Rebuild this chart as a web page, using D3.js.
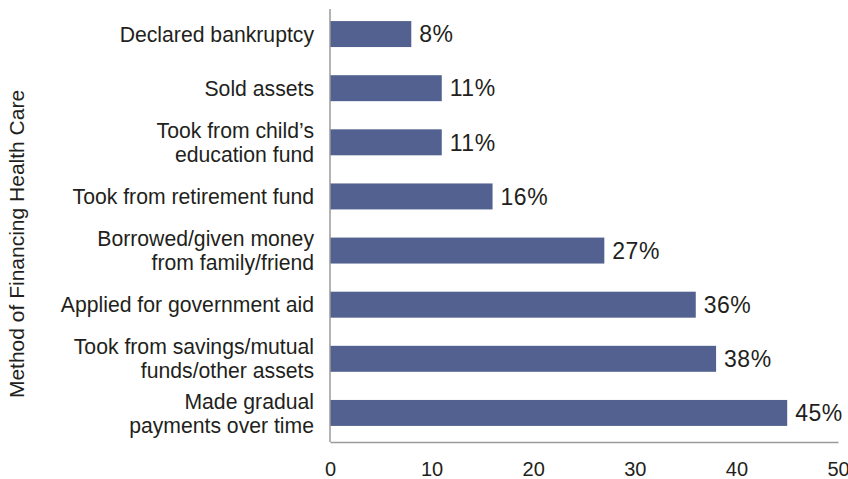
<!DOCTYPE html>
<html>
<head>
<meta charset="utf-8">
<script src="https://cdn.jsdelivr.net/npm/d3@7"></script>
<style>
  html, body { margin: 0; padding: 0; background: #fff; }
  svg { display: block; }
  text { font-family: "Liberation Sans", Arial, Helvetica, sans-serif; fill: #231f20; }
</style>
</head>
<body>
<svg id="chart" width="848" height="479"></svg>
<script>
const categories = [
  ["Declared bankruptcy"],
  ["Sold assets"],
  ["Took from child\u2019s", "education fund"],
  ["Took from retirement fund"],
  ["Borrowed/given money", "from family/friend"],
  ["Applied for government aid"],
  ["Took from savings/mutual", "funds/other assets"],
  ["Made gradual", "payments over time"]
];
const values = [8, 11, 11, 16, 27, 36, 38, 45];
const xTicks = [0, 10, 20, 30, 40, 50];
const axisTitle = "Method of Financing Health Care";

const svg = d3.select("#chart");
const plot = { left: 330, right: 838, top: 9, bottom: 442 };

const x = d3.scaleLinear().domain([0, 50]).range([plot.left, plot.right]);
const y = d3.scaleBand()
  .domain(d3.range(categories.length))
  .range([7, 440])
  .paddingInner(0.52)
  .paddingOuter(0.26);

// bars
svg.append("g").selectAll("rect")
  .data(values)
  .join("rect")
  .attr("x", x(0))
  .attr("y", (d, i) => y(i))
  .attr("width", d => x(d) - x(0))
  .attr("height", y.bandwidth())
  .attr("fill", "#52618f");

// value labels
svg.append("g").selectAll("text")
  .data(values)
  .join("text")
  .attr("x", d => x(d) + 8)
  .attr("y", (d, i) => y(i) + y.bandwidth() / 2)
  .attr("dy", "0.36em")
  .style("font-size", "23px")
  .style("letter-spacing", "0.5px")
  .text(d => d + "%");

// category labels
const catSize = 21.2;
const cat = svg.append("g").selectAll("text")
  .data(categories)
  .join("text")
  .attr("text-anchor", "end")
  .style("font-size", catSize + "px")
  .attr("y", (d, i) => y(i) + y.bandwidth() / 2);
cat.each(function (lines) {
  const t = d3.select(this);
  const lh = 24;
  const start = -(lines.length - 1) * lh / 2;
  lines.forEach((ln, k) => {
    t.append("tspan")
      .attr("x", 314)
      .attr("dy", k === 0 ? (start / catSize + 0.36) + "em" : lh + "px")
      .text(ln);
  });
});

// x axis
const xAxis = svg.append("g")
  .attr("transform", `translate(0,${plot.bottom})`)
  .call(d3.axisBottom(x).tickValues(xTicks).tickSize(0).tickPadding(20).tickFormat(d3.format("d")));
xAxis.select(".domain").attr("stroke", "#9a9a9a").attr("stroke-width", 1.5);
xAxis.selectAll("text").style("font-size", "20px").attr("fill", "#231f20")
  .style("font-family", "'Liberation Sans', Arial, sans-serif");

// y axis line
svg.append("line")
  .attr("x1", x(0)).attr("x2", x(0))
  .attr("y1", plot.top).attr("y2", plot.bottom)
  .attr("stroke", "#9a9a9a").attr("stroke-width", 1.5);

// axis title
svg.append("text")
  .attr("transform", `translate(24,${(90 + 398) / 2}) rotate(-90)`)
  .attr("text-anchor", "middle")
  .style("font-size", "21px")
  .text(axisTitle);
</script>
</body>
</html>
